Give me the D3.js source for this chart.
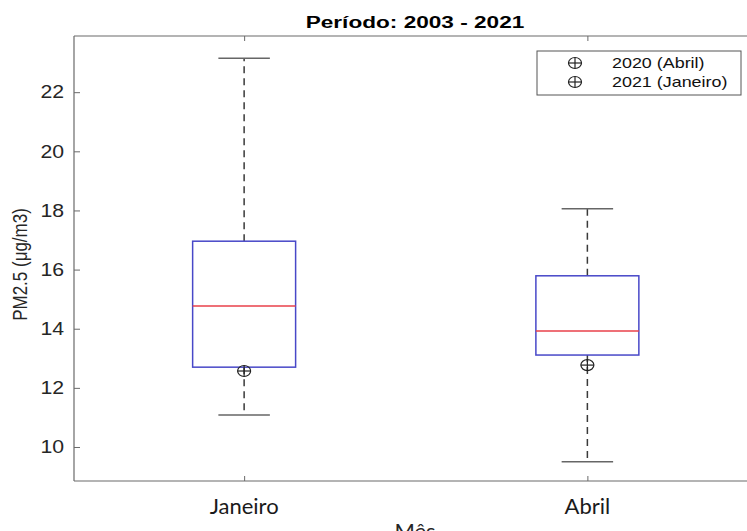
<!DOCTYPE html>
<html>
<head>
<meta charset="utf-8">
<script src="https://cdn.jsdelivr.net/npm/d3@7"></script>
<style>
  html, body { margin: 0; padding: 0; background: #fff; }
  svg { display: block; }
</style>
</head>
<body>
<svg id="chart" width="747" height="531"></svg>
<script>
// ---- data ----
const categories = ["Janeiro", "Abril"];
const whiskerLow  = [11.08, 9.50];
const q1          = [12.70, 13.11];
const medians     = [14.77, 13.92];
const q3          = [16.96, 15.79];
const whiskerHigh = [23.15, 18.06];
const markerNames = ["2020 (Abril)", "2021 (Janeiro)"];
const markerCats  = ["Abril", "Janeiro"];
const markerVals  = [12.77, 12.57];
const yTicks = [10, 12, 14, 16, 18, 20, 22];
const titleText = "Período: 2003 - 2021";
const yLabel = "PM2.5 (μg/m3)";
const xLabel = "Mês";

(function () {
// ---- layout ----
const svg = d3.select("#chart");
const pLeft = 74, pTop = 36, pBottom = 481, pRight = 759;
const x = d3.scaleLinear().domain([0.5, 2.5]).range([pLeft - 1.5, pRight]);
const y = d3.scaleLinear().domain([8.85, 23.9]).range([pBottom, pTop]);
const boxW = 0.3, capW = 0.15;
const axisColor = "#6a6a6a";
const font = "'Liberation Sans', Arial, sans-serif";
const stretch = 1.28; // horizontal stretch of the original picture's text

// axes box (left, bottom, top)
svg.append("line").attr("x1", pLeft).attr("x2", pLeft).attr("y1", pTop).attr("y2", pBottom)
  .attr("stroke", axisColor).attr("stroke-width", 1.2);
svg.append("line").attr("x1", pLeft).attr("x2", 747).attr("y1", pBottom).attr("y2", pBottom)
  .attr("stroke", axisColor).attr("stroke-width", 1.2);
svg.append("line").attr("x1", pLeft).attr("x2", 747).attr("y1", pTop).attr("y2", pTop)
  .attr("stroke", axisColor).attr("stroke-width", 1.2);

// y axis ticks (inward)
const yAxis = d3.axisRight(y).tickValues(yTicks).tickSize(6).tickFormat("");
const gy = svg.append("g").attr("transform", `translate(${pLeft},0)`).call(yAxis);
gy.select(".domain").remove();
gy.selectAll(".tick line").attr("stroke", axisColor);
svg.append("g").selectAll("text").data(yTicks).join("text")
  .attr("transform", d => `translate(${pLeft - 10},${y(d)}) scale(1.18,1)`)
  .attr("dy", "0.35em")
  .attr("text-anchor", "end").attr("font-family", font).attr("font-size", 18)
  .attr("fill", "#262626").text(d => d);

// x axis ticks (inward, bottom and top)
const xVals = categories.map((c, i) => i + 1);
const xAxisB = d3.axisTop(x).tickValues(xVals).tickSize(5).tickFormat("");
const gxb = svg.append("g").attr("transform", `translate(0,${pBottom})`).call(xAxisB);
gxb.select(".domain").remove();
gxb.selectAll(".tick line").attr("stroke", axisColor);
const xAxisT = d3.axisBottom(x).tickValues(xVals).tickSize(5).tickFormat("");
const gxt = svg.append("g").attr("transform", `translate(0,${pTop})`).call(xAxisT);
gxt.select(".domain").remove();
gxt.selectAll(".tick line").attr("stroke", axisColor);

svg.append("g").selectAll("text").data(categories).join("text")
  .attr("x", (d, i) => x(i + 1)).attr("y", 514)
  .attr("text-anchor", "middle").attr("font-family", "Lato, 'Open Sans', sans-serif")
  .attr("font-size", 22).attr("fill", "#1a1a1a").text(d => d);

// x label
svg.append("text").attr("x", 415).attr("y", 539)
  .attr("text-anchor", "middle").attr("font-family", "Lato, 'Open Sans', sans-serif")
  .attr("font-size", 22).attr("fill", "#262626").text(xLabel);

// y label
svg.append("text").attr("transform", `translate(27,${(pTop + pBottom) / 2 + 6}) rotate(-90) scale(1,1.22)`)
  .attr("text-anchor", "middle").attr("font-family", font).attr("font-size", 17)
  .attr("fill", "#262626").text(yLabel);

// title
svg.append("text").attr("transform", `translate(415,28) scale(${stretch + 0.05},1)`)
  .attr("text-anchor", "middle").attr("font-family", font).attr("font-size", 17)
  .attr("font-weight", "bold").attr("fill", "#000").text(titleText);

// ---- boxes ----
const boxes = categories.map((c, i) => ({
  c, i: i + 1, lo: whiskerLow[i], q1: q1[i], med: medians[i], q3: q3[i], hi: whiskerHigh[i]
}));
const g = svg.append("g");
const whiskerColor = "#3a3a3a";
g.selectAll(".wu").data(boxes).join("line")
  .attr("x1", d => x(d.i)).attr("x2", d => x(d.i))
  .attr("y1", d => y(d.q3)).attr("y2", d => y(d.hi))
  .attr("stroke", whiskerColor).attr("stroke-width", 1.5).attr("stroke-dasharray", "7,5");
g.selectAll(".wl").data(boxes).join("line")
  .attr("x1", d => x(d.i)).attr("x2", d => x(d.i))
  .attr("y1", d => y(d.q1)).attr("y2", d => y(d.lo))
  .attr("stroke", whiskerColor).attr("stroke-width", 1.5).attr("stroke-dasharray", "7,5");
["hi", "lo"].forEach(k => {
  g.append("g").selectAll("line").data(boxes).join("line")
    .attr("x1", d => x(d.i - capW / 2)).attr("x2", d => x(d.i + capW / 2))
    .attr("y1", d => y(d[k])).attr("y2", d => y(d[k]))
    .attr("stroke", "#666").attr("stroke-width", 1.5);
});
g.append("g").selectAll("rect").data(boxes).join("rect")
  .attr("x", d => x(d.i - boxW / 2)).attr("width", d => x(d.i + boxW / 2) - x(d.i - boxW / 2))
  .attr("y", d => y(d.q3)).attr("height", d => y(d.q1) - y(d.q3))
  .attr("fill", "none").attr("stroke", "#4848c8").attr("stroke-width", 1.5);
g.append("g").selectAll("line").data(boxes).join("line")
  .attr("x1", d => x(d.i - boxW / 2)).attr("x2", d => x(d.i + boxW / 2))
  .attr("y1", d => y(d.med)).attr("y2", d => y(d.med))
  .attr("stroke", "#e8404a").attr("stroke-width", 1.5);

// ---- markers (circle-plus) ----
function drawMarker(sel, cx, cy) {
  const rx = 6.5, ry = 5.5;
  const m = sel.append("g").attr("transform", `translate(${cx},${cy})`);
  m.append("ellipse").attr("rx", rx).attr("ry", ry).attr("fill", "none").attr("stroke", "#222").attr("stroke-width", 1.2);
  m.append("line").attr("x1", -rx).attr("x2", rx).attr("stroke", "#222").attr("stroke-width", 1.2);
  m.append("line").attr("y1", -ry).attr("y2", ry).attr("stroke", "#222").attr("stroke-width", 1.2);
}
markerVals.forEach((v, k) => {
  const ci = categories.indexOf(markerCats[k]) + 1;
  drawMarker(svg, x(ci), y(v));
});

// ---- legend ----
const lg = svg.append("g");
lg.append("rect").attr("x", 537).attr("y", 51).attr("width", 204).attr("height", 44)
  .attr("fill", "#fff").attr("stroke", "#555").attr("stroke-width", 1);
markerNames.forEach((n, k) => {
  const yy = 63 + k * 19;
  drawMarker(lg, 575, yy);
  lg.append("text").attr("transform", `translate(612,${yy}) scale(${stretch},1)`).attr("dy", "0.35em")
    .attr("font-family", font).attr("font-size", 14).attr("fill", "#111").text(n);
});
})();
</script>
</body>
</html>
